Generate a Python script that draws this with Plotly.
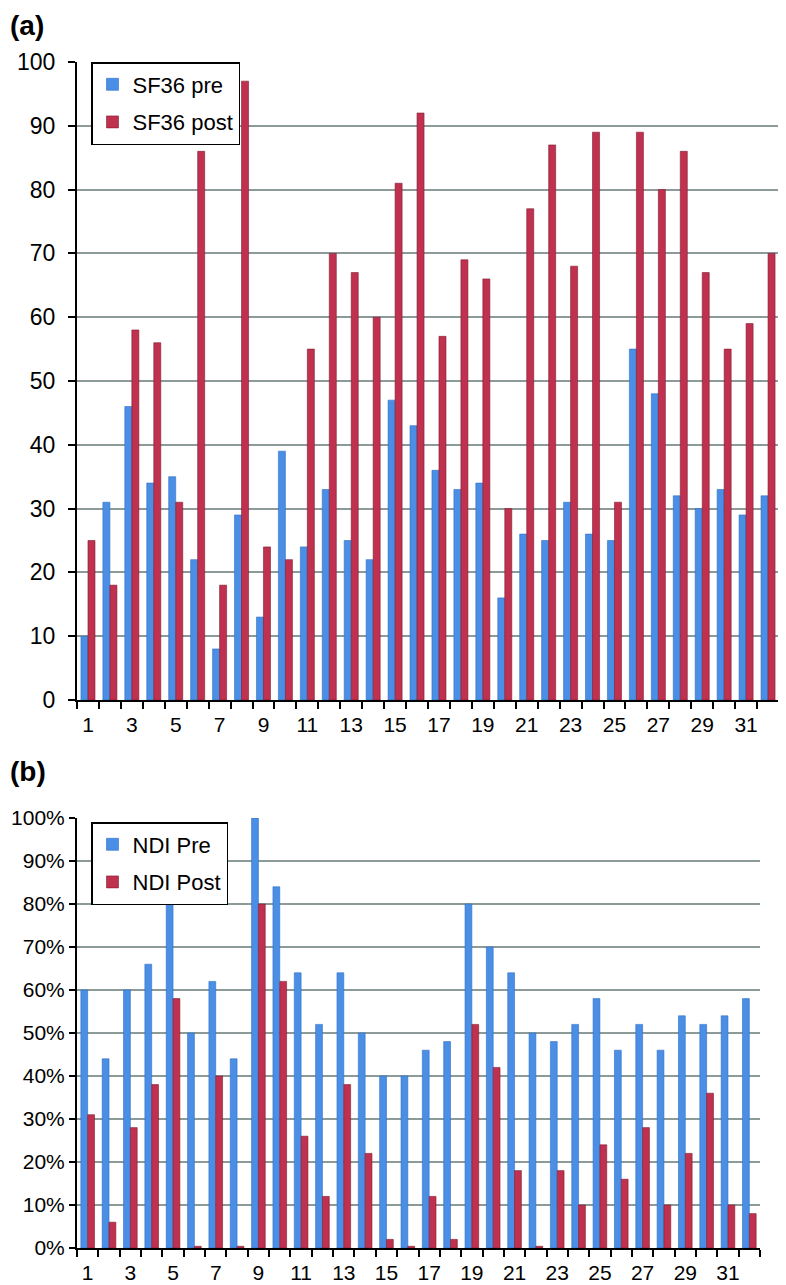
import plotly.graph_objects as go

patients = list(range(1, 33))
tick_labels = [str(i) for i in range(1, 33, 2)]
tick_positions = list(range(1, 33, 2))

sf36_pre = [10, 31, 46, 34, 35, 22, 8, 29, 13, 39, 24, 33, 25, 22, 47, 43,
            36, 33, 34, 16, 26, 25, 31, 26, 25, 55, 48, 32, 30, 33, 29, 32]
sf36_post = [25, 18, 58, 56, 31, 86, 18, 97, 24, 22, 55, 70, 67, 60, 81, 92,
             57, 69, 66, 30, 77, 87, 68, 89, 31, 89, 80, 86, 67, 55, 59, 70]

ndi_pre = [60, 44, 60, 66, 80, 50, 62, 44, 100, 84, 64, 52, 64, 50, 40, 40,
           46, 48, 80, 70, 64, 50, 48, 52, 58, 46, 52, 46, 54, 52, 54, 58]
ndi_post = [31, 6, 28, 38, 58, 0.4, 40, 0.4, 80, 62, 26, 12, 38, 22, 2, 0.4,
            12, 2, 52, 42, 18, 0.4, 18, 10, 24, 16, 28, 10, 22, 36, 10, 8]

BLUE = "#4a8ee6"
RED = "#c0304f"
FONT = "Liberation Sans, Arial, sans-serif"
OFF = 8  # page body margin
W, H = 786 - OFF, 1285 - OFF


def px_x(p):
    return (p - OFF) / W


def px_y(p):
    return 1 - (p - OFF) / H


fig = go.Figure()
fig.add_trace(go.Bar(x=patients, y=sf36_pre, name="SF36 pre", marker=dict(color=BLUE, line=dict(color="#2f6fc4", width=0.6)),
                     xaxis="x", yaxis="y", legend="legend", legendgroup="a1"))
fig.add_trace(go.Bar(x=patients, y=sf36_post, name="SF36 post", marker=dict(color=RED, line=dict(color="#7d1e33", width=0.6)),
                     xaxis="x", yaxis="y", legend="legend", legendgroup="a2"))
fig.add_trace(go.Bar(x=patients, y=[v / 100 for v in ndi_pre], name="NDI Pre", marker=dict(color=BLUE, line=dict(color="#2f6fc4", width=0.6)),
                     xaxis="x2", yaxis="y2", legend="legend2", legendgroup="b1"))
fig.add_trace(go.Bar(x=patients, y=[v / 100 for v in ndi_post], name="NDI Post", marker=dict(color=RED, line=dict(color="#7d1e33", width=0.6)),
                     xaxis="x2", yaxis="y2", legend="legend2", legendgroup="b2"))

xcommon = dict(
    range=[0.5, 32.5], tickmode="array", tickvals=tick_positions, ticktext=tick_labels,
    ticks="", showgrid=False, zeroline=False, showline=True, linecolor="black", linewidth=2,
    automargin=False, ticklabelstandoff=5,
    tickfont=dict(size=21, color="black", family=FONT),
    minor=dict(ticks="outside", tick0=0.5, dtick=1, ticklen=7, tickwidth=1.5, tickcolor="black", showgrid=False),
)
ycommon = dict(
    showgrid=True, gridcolor="#8c9a9a", gridwidth=2, zeroline=False, automargin=False,
    showline=True, linecolor="black", linewidth=2, ticks="outside", tickwidth=1.5,
    tickcolor="black",
)

legend_common = dict(xanchor="left", yanchor="top", bordercolor="black", borderwidth=1.5,
                     bgcolor="white", font=dict(size=22, family=FONT, color="black"),
                     tracegroupgap=6, traceorder="grouped", itemwidth=30)

fig.update_layout(
    width=W, height=H,
    margin=dict(l=0, r=0, t=0, b=0, autoexpand=False),
    paper_bgcolor="white", plot_bgcolor="white",
    barmode="group", bargap=0.36, bargroupgap=0.0,
    font=dict(family=FONT, color="black"),
    xaxis=dict(domain=[px_x(77), px_x(779)], anchor="y", **xcommon),
    yaxis=dict(domain=[px_y(700), px_y(62)], anchor="x", range=[0, 100], dtick=10, ticklen=7,
               ticklabelstandoff=8, tickfont=dict(size=23, color="black", family=FONT), **ycommon),
    xaxis2=dict(domain=[px_x(77), px_x(760)], anchor="y2", **xcommon),
    yaxis2=dict(domain=[px_y(1248), px_y(818)], anchor="x2", range=[0, 1], dtick=0.1, ticklen=6,
                tickformat=".0%", ticklabelstandoff=0,
                tickfont=dict(size=21, color="black", family=FONT), **ycommon),
    legend=dict(x=px_x(91), y=px_y(62), **legend_common),
    legend2=dict(x=px_x(91), y=px_y(822), **legend_common),
    annotations=[
        dict(text="<b>(a)</b>", x=0, y=px_y(OFF), xref="paper", yref="paper", xanchor="left", yanchor="top",
             showarrow=False, font=dict(size=28, family=FONT, color="black")),
        dict(text="<b>(b)</b>", x=0, y=px_y(754), xref="paper", yref="paper", xanchor="left", yanchor="top",
             showarrow=False, font=dict(size=28, family=FONT, color="black")),
    ],
)

fig.write_html("out.html")
